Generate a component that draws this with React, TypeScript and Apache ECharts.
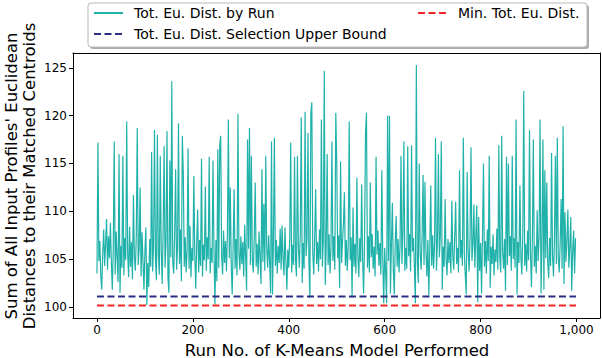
import React, { useEffect, useRef } from "react";
import * as echarts from "echarts";

// Run index step of the sampled points (run = index * RUN_STEP)
const RUN_STEP = 2;

// Total Euclidean distance by run (one value per 2 runs)
const totEuDist: number[] = [
  // 0-48
  103.5, 117.2, 104.8, 106.9, 103.2, 101.8, 105.6, 108.1, 104.3, 106.7, 109.2, 103.9, 107.4, 105.1, 108.8, 104.6, 101.8, 106.2, 117.3, 103.4, 107.9, 105.2, 102.6, 116.0, 101.5,
  // 50-98
  106.4, 104.1, 115.8, 103.3, 107.2, 104.9, 119.4, 105.7, 103.1, 108.4, 104.2, 106.8, 102.9, 111.7, 105.3, 103.8, 107.5, 118.7, 104.4, 106.1, 112.5, 103.2, 107.8, 104.7, 101.8,
  // 100-148
  105.9, 108.3, 100.2, 104.6, 102.1, 107.1, 104.2, 116.2, 103.7, 106.4, 118.5, 104.9, 102.8, 118.0, 105.5, 103.4, 115.8, 106.0, 102.4, 108.2, 116.8, 104.1, 106.9, 118.4, 103.0,
  // 150-198
  101.5, 115.3, 105.2, 123.6, 104.7, 103.5, 107.6, 114.4, 103.9, 106.3, 119.2, 104.5, 108.1, 102.7, 117.9, 114.0, 104.2, 107.3, 103.6, 105.9, 116.6, 104.0, 108.5, 103.1, 106.2,
  // 200-248
  104.8, 113.7, 105.4, 101.9, 106.7, 110.2, 103.6, 107.0, 104.3, 115.5, 103.2, 106.5, 104.9, 112.6, 103.8, 107.3, 105.0, 115.7, 103.5, 106.2, 104.6, 115.3, 105.8, 100.3, 107.0,
  // 250-298
  102.7, 116.5, 104.1, 116.9, 117.9, 105.2, 103.4, 108.0, 104.6, 106.9, 103.7, 107.6, 119.6, 105.1, 112.5, 104.3, 101.3, 106.4, 112.3, 104.0, 107.1, 103.3, 120.2, 105.6, 103.9,
  // 300-348
  107.4, 104.5, 106.8, 103.2, 108.6, 105.3, 101.7, 117.5, 106.1, 118.7, 104.4, 115.8, 105.0, 103.6, 107.2, 113.0, 104.2, 106.6, 103.4, 107.9, 105.1, 102.4, 114.4, 104.7, 110.8,
  // 350-398
  103.8, 115.8, 106.2, 104.1, 107.5, 104.8, 101.4, 117.3, 101.3, 106.9, 117.7, 104.3, 107.0, 103.5, 106.4, 104.6, 108.2, 103.9, 108.5, 105.2, 103.3, 108.3, 104.8, 101.8, 106.0,
  // 400-448
  104.1, 107.3, 117.2, 103.6, 106.5, 104.4, 115.7, 105.0, 103.2, 115.8, 106.3, 104.1, 107.8, 119.8, 102.5, 106.7, 104.0, 120.4, 105.3, 107.1, 118.2, 104.6, 101.0, 120.2, 121.4,
  // 450-498
  105.7, 103.4, 107.2, 112.3, 104.5, 106.8, 103.7, 108.1, 105.0, 119.6, 104.2, 106.9, 124.7, 102.3, 106.1, 116.0, 104.4, 107.6, 103.5, 106.3, 117.3, 104.8, 107.4, 103.9, 120.3,
  // 500-548
  115.2, 105.1, 107.5, 102.0, 115.2, 104.6, 106.8, 108.7, 112.0, 104.3, 107.0, 103.8, 106.5, 119.4, 104.9, 107.3, 101.0, 110.4, 104.2, 106.6, 103.5, 113.5, 105.4, 103.1, 107.2,
  // 550-598
  104.7, 112.8, 105.0, 101.4, 106.9, 118.2, 120.3, 104.1, 107.4, 103.6, 113.0, 105.2, 107.6, 104.0, 106.3, 103.2, 115.7, 105.5, 108.0, 104.3, 106.7, 103.4, 114.3, 105.1, 100.4,
  // 600-648
  106.2, 103.5, 100.4, 120.0, 104.8, 120.0, 101.4, 106.5, 110.9, 103.9, 101.3, 106.8, 109.5, 104.2, 107.1, 103.6, 106.4, 115.8, 104.5, 107.7, 117.3, 103.8, 106.2, 104.0, 116.8,
  // 650-698
  105.3, 107.6, 103.7, 116.9, 105.8, 107.2, 104.1, 100.4, 125.3, 104.9, 102.5, 115.0, 105.6, 103.9, 107.4, 113.8, 104.4, 113.1, 105.7, 103.2, 107.0, 101.2, 106.1, 112.7, 104.3,
  // 700-748
  107.5, 104.0, 106.6, 117.7, 103.8, 106.9, 116.0, 105.2, 107.4, 117.3, 101.8, 106.3, 104.2, 111.3, 105.0, 103.3, 107.1, 104.6, 106.8, 103.5, 111.1, 105.4, 103.9, 107.3, 111.0,
  // 750-798
  104.5, 106.2, 103.6, 114.3, 105.1, 107.0, 104.3, 117.7, 105.6, 103.4, 101.3, 114.1, 105.9, 103.7, 107.2, 116.7, 104.8, 106.5, 110.7, 104.1, 107.3, 110.6, 100.5, 109.4, 103.8,
  // 800-848
  106.7, 101.4, 107.5, 115.0, 104.2, 106.9, 103.5, 108.1, 104.8, 115.8, 102.0, 106.3, 104.5, 107.6, 103.3, 106.0, 104.7, 108.2, 103.9, 116.9, 105.2, 103.6, 117.9, 105.7, 104.0,
  // 850-898
  107.1, 101.7, 115.7, 104.4, 115.0, 105.3, 107.4, 103.8, 115.8, 105.0, 107.2, 104.1, 119.6, 101.3, 106.8, 104.6, 112.7, 105.2, 103.4, 107.5, 122.6, 104.3, 106.6, 103.7, 108.0,
  // 900-948
  104.9, 118.5, 105.6, 102.1, 107.0, 117.5, 104.2, 106.4, 103.5, 110.1, 104.8, 107.3, 119.6, 101.4, 106.5, 117.5, 101.8, 114.3, 105.1, 113.0, 104.6, 103.0, 107.2, 104.3, 116.1,
  // 950-998
  105.4, 103.2, 107.0, 115.8, 104.5, 117.7, 105.2, 103.6, 106.8, 111.3, 104.0, 118.9, 102.4, 109.9, 104.7, 106.9, 110.2, 104.1, 106.3, 109.4, 101.7, 105.8, 108.0, 103.5, 107.2,
];

const upperBound = 101.1;
const minTotEuDist = 100.15;
const boundRuns = [0, 999];

const xTicks = [0, 200, 400, 600, 800, 1000];
const yTicks = [100, 105, 110, 115, 120, 125];

const SERIES_RUN = "Tot. Eu. Dist. by Run";
const SERIES_UB = "Tot. Eu. Dist. Selection Upper Bound";
const SERIES_MIN = "Min. Tot. Eu. Dist.";

const FONT = "DejaVu Sans";
const X_MIN = -50;
const X_MAX = 1049;
const Y_MIN = 98.85;
const Y_MAX = 126.55;

export default function App() {
  const ref = useRef<HTMLDivElement>(null);

  useEffect(() => {
    if (!ref.current) return;
    const chart = echarts.init(ref.current, undefined, { renderer: "svg" });

    const runData = totEuDist.map((v, i) => [i * RUN_STEP, v]);
    const ubData = boundRuns.map((r) => [r, upperBound]);
    const minData = boundRuns.map((r) => [r, minTotEuDist]);

    const frameAxis = {
      type: "value",
      splitLine: { show: false },
      axisTick: { show: false },
      axisLabel: { show: false },
      axisLine: { show: true, onZero: false, lineStyle: { color: "#000", width: 1 } },
    };

    const legendText = { fontSize: 14, color: "#000", fontFamily: FONT, padding: [0, 0, 0, 6] };

    chart.setOption({
      animation: false,
      backgroundColor: "#ffffff",
      textStyle: { fontFamily: FONT },
      grid: { left: 73, right: 2, top: 53, bottom: 40 },
      xAxis: [
        {
          type: "value",
          min: X_MIN,
          max: X_MAX,
          position: "bottom",
          splitLine: { show: false },
          axisLine: { show: true, onZero: false, lineStyle: { color: "#000", width: 1 } },
          axisTick: {
            show: true,
            inside: false,
            length: 4,
            lineStyle: { color: "#000", width: 1 },
            customValues: xTicks,
          },
          axisLabel: {
            customValues: xTicks,
            color: "#000",
            fontSize: 12,
            fontFamily: FONT,
            margin: 6,
          },
        },
        { ...frameAxis, min: X_MIN, max: X_MAX, position: "top" },
      ],
      yAxis: [
        {
          type: "value",
          min: Y_MIN,
          max: Y_MAX,
          position: "left",
          splitLine: { show: false },
          axisLine: { show: true, onZero: false, lineStyle: { color: "#000", width: 1 } },
          axisTick: {
            show: true,
            inside: false,
            length: 4,
            lineStyle: { color: "#000", width: 1 },
            customValues: yTicks,
          },
          axisLabel: {
            customValues: yTicks,
            color: "#000",
            fontSize: 12,
            fontFamily: FONT,
            margin: 6,
          },
        },
        { ...frameAxis, min: Y_MIN, max: Y_MAX, position: "right" },
      ],
      legend: [
        {
          data: [SERIES_RUN, SERIES_UB],
          orient: "vertical",
          left: 93,
          top: 6,
          padding: 0,
          itemWidth: 29,
          itemHeight: 14,
          itemGap: 7,
          selectedMode: false,
          itemStyle: { opacity: 0 },
          textStyle: legendText,
        },
        {
          data: [SERIES_MIN],
          orient: "vertical",
          left: 417,
          top: 6,
          padding: 0,
          itemWidth: 29,
          itemHeight: 14,
          selectedMode: false,
          itemStyle: { opacity: 0 },
          textStyle: legendText,
        },
      ],
      graphic: [
        {
          type: "rect",
          z: 1,
          shape: { x: 90, y: 5, width: 499, height: 44, r: 3 },
          style: { fill: "#8a8a8a", opacity: 0.7 },
        },
        {
          type: "rect",
          z: 2,
          shape: { x: 88, y: 3, width: 499, height: 44, r: 3 },
          style: { fill: "#ffffff", stroke: "#b8b8b8", lineWidth: 1 },
        },
        {
          type: "text",
          x: 337,
          y: 350,
          style: {
            text: "Run No. of K-Means Model Performed",
            fontSize: 16.5,
            fontFamily: FONT,
            fill: "#000",
            align: "center",
            verticalAlign: "middle",
          },
        },
        {
          type: "text",
          x: 11,
          y: 176,
          rotation: Math.PI / 2,
          style: {
            text: "Sum of All Input Profiles' Euclidean",
            fontSize: 16.5,
            fontFamily: FONT,
            fill: "#000",
            align: "center",
            verticalAlign: "middle",
          },
        },
        {
          type: "text",
          x: 29,
          y: 176,
          rotation: Math.PI / 2,
          style: {
            text: "Distances to their Matched Centroids",
            fontSize: 16.5,
            fontFamily: FONT,
            fill: "#000",
            align: "center",
            verticalAlign: "middle",
          },
        },
      ],
      series: [
        {
          name: SERIES_RUN,
          type: "line",
          data: runData,
          showSymbol: false,
          symbol: "none",
          lineStyle: { color: "#20b2aa", width: 1.2 },
          itemStyle: { color: "#20b2aa" },
          z: 2,
        },
        {
          name: SERIES_UB,
          type: "line",
          data: ubData,
          showSymbol: false,
          symbol: "none",
          lineStyle: { color: "#2a2e83", width: 2, type: [7, 3.5] },
          itemStyle: { color: "#2a2e83" },
          z: 3,
        },
        {
          name: SERIES_MIN,
          type: "line",
          data: minData,
          showSymbol: false,
          symbol: "none",
          lineStyle: { color: "#f02525", width: 2, type: [7, 3.5] },
          itemStyle: { color: "#f02525" },
          z: 3,
        },
      ],
    });

    return () => chart.dispose();
  }, []);

  return (
    <div
      ref={ref}
      style={{ position: "fixed", left: 0, top: 0, width: 602, height: 358 }}
    />
  );
}
